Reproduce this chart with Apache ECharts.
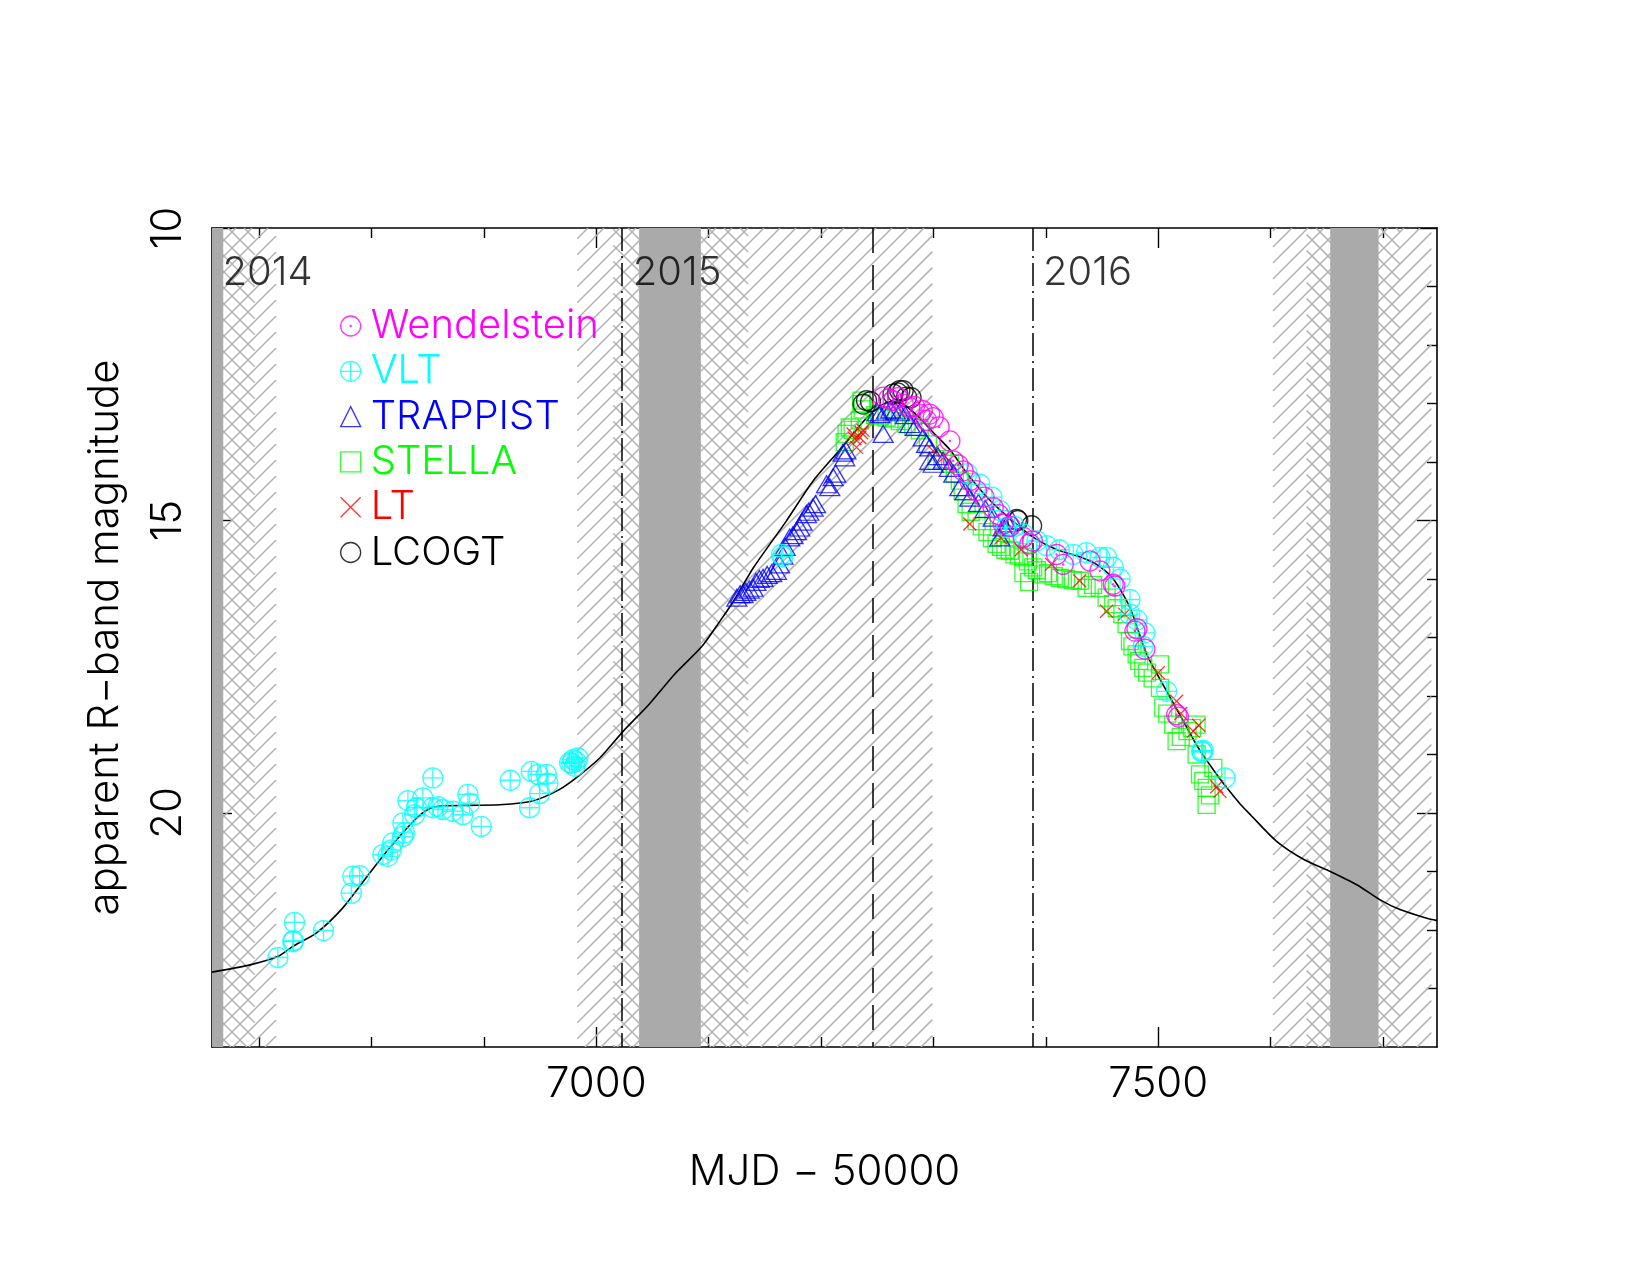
<!DOCTYPE html>
<html><head><meta charset="utf-8">
<script src="https://cdn.jsdelivr.net/npm/echarts@6/dist/echarts.min.js"></script>
<style>html,body{margin:0;padding:0;background:#fff}#c{width:1650px;height:1275px}</style>
</head><body><div id="c"></div>
<script>
// ---------- axes ----------
const xMin = 6658, xMax = 7748;
const yMin = 10, yMax = 24;
const xMajorTicks = [7000, 7500];
const xMinorTicks = [6700, 6800, 6900, 7100, 7200, 7300, 7400, 7600, 7700];
const yMajorTicks = [10, 15, 20];
const yMinorTicks = [11, 12, 13, 14, 16, 17, 18, 19, 21, 22, 23];

// ---------- annotations ----------
const yearStarts = [6658, 7023, 7388];
const yearNames = ['2014', '2015', '2016'];
const yearLabelMag = 10.77;
const yearLineMJD = [7023, 7388];
const dashedLineMJD = [7246];
const hatchForward = [[6600, 6715], [6983, 7299], [7602, 7743]];
const hatchBackward = [[6600, 6696], [7015, 7135], [7632, 7715]];
const graySolid = [[6600, 6668], [7038, 7093], [7653, 7696]];

// ---------- model curve ----------
const modelMJD = [6658,6691,6717,6730,6751,6774,6795,6816,6840,6855,6884,6914,6944,6967,6982,7003,7024,7047,7070,7094,7110,7122,7140,7169,7193,7220,7238,7252,7262,7272,7285,7300,7315,7330,7350,7370,7390,7410,7430,7445,7460,7475,7490,7507,7520,7537,7555,7561,7573,7582,7605,7630,7653,7677,7697,7715,7739,7748];
const modelMag = [22.72,22.60,22.45,22.28,22.05,21.63,21.11,20.60,20.09,19.90,19.87,19.86,19.79,19.60,19.40,19.06,18.60,18.14,17.62,17.15,16.72,16.38,15.80,15.01,14.32,13.72,13.30,13.05,12.97,13.00,13.20,13.50,13.80,14.20,14.65,15.00,15.30,15.50,15.62,15.75,16.00,16.50,17.30,17.90,18.35,18.93,19.42,19.57,19.85,20.03,20.48,20.80,21.00,21.23,21.48,21.65,21.80,21.84];

// ---------- observations ----------
const wendelstein = [[7255.2,12.89],[7260,12.92],[7264,12.95],[7268,12.90],[7273,13.01],[7278.9,13.07],[7283,13.05],[7287.8,13.18],[7290,13.12],[7293.8,13.29],[7296.6,13.18],[7299.7,13.24],[7305,13.40],[7314.6,13.64],[7317.5,13.98],[7322,14.05],[7326.4,14.15],[7332.3,14.32],[7338.3,14.49],[7345,14.60],[7353.1,14.78],[7358,14.90],[7362,15.06],[7368,15.10],[7379.8,15.29],[7385.7,15.40],[7388,15.35],[7409.5,15.58],[7415.4,15.75],[7439.2,15.69],[7448,15.86],[7459.9,16.09],[7461.4,16.12],[7479.2,16.89],[7481,16.85],[7488.1,17.20],[7516.3,18.32],[7518,18.36]];
const vlt = [[6716.6,22.47],[6729.9,22.20],[6731.4,21.87],[6730.5,22.18],[6757.2,22.01],[6781.9,21.37],[6783.3,21.08],[6789.3,21.07],[6810.0,20.71],[6814.5,20.74],[6817.5,20.63],[6818.9,20.51],[6827.8,20.40],[6829.3,20.34],[6827.8,20.17],[6832.3,19.79],[6839.8,19.91],[6838.2,20.03],[6845.6,19.74],[6854.5,19.40],[6854.5,19.91],[6859.0,19.89],[6863.4,19.94],[6872.3,19.97],[6881.2,20.03],[6885.7,19.68],[6887.2,19.83],[6897.6,20.23],[6923.4,19.44],[6942.1,19.29],[6940.6,19.91],[6949.5,19.67],[6948.0,19.34],[6955.5,19.34],[6956.9,19.49],[6976.2,19.14],[6979.2,19.09],[6983.6,19.06],[6980.7,19.20],[6978,19.15],[6982,19.12],[7164.7,15.58],[7166,15.62],[7330,14.20],[7341.2,14.38],[7352,14.60],[7359,14.83],[7365,15.12],[7372,15.10],[7379.8,15.23],[7392,15.35],[7400.6,15.43],[7412,15.50],[7424.3,15.58],[7436,15.55],[7448.1,15.63],[7454,15.63],[7460,15.80],[7466,16.00],[7474.8,16.35],[7474.8,16.60],[7481,16.70],[7488.1,16.92],[7486.6,17.15],[7507.4,17.92],[7538.6,18.94],[7539,18.96],[7540,18.93],[7559.3,19.40]];
const trappist = [[7125,16.32],[7128,16.26],[7130.5,16.26],[7133,16.22],[7136,16.18],[7139.4,16.15],[7142,16.05],[7145,16.00],[7148.3,15.98],[7152,15.93],[7156,15.90],[7160.2,15.86],[7163,15.75],[7166,15.60],[7168,15.45],[7172.1,15.29],[7175,15.25],[7178,15.18],[7181,15.12],[7183,15.02],[7186.9,14.89],[7189,14.85],[7192.8,14.78],[7195,14.72],[7204.8,14.38],[7207.7,14.43],[7210.7,14.26],[7213,14.20],[7219.5,13.84],[7221,13.92],[7222,13.80],[7250,13.15],[7252.2,13.18],[7255.2,13.52],[7258,13.12],[7262,13.10],[7266,13.12],[7270,13.15],[7275,13.20],[7278.9,13.35],[7284,13.40],[7290.7,13.58],[7293.8,13.69],[7296.6,13.75],[7296.6,13.98],[7299.7,14.03],[7304,13.90],[7308.5,13.98],[7314,14.10],[7318,14.20],[7323.4,14.43],[7328,14.50],[7332.3,14.61],[7340,14.70],[7346,14.80],[7353.1,14.95],[7359,15.29],[7362,15.12],[7366,15.05],[7370,15.00]];
const stella = [[7221,13.66],[7222.6,13.52],[7225.5,13.41],[7228,13.45],[7234.4,13.29],[7235.9,13.01],[7235.9,12.95],[7237,13.10],[7248,13.20],[7252,13.22],[7258.2,13.24],[7265,13.26],[7270,13.30],[7276,13.35],[7282,13.40],[7287.8,13.46],[7295,13.70],[7302.7,13.98],[7308,13.95],[7314.6,14.03],[7319,14.20],[7323.4,14.32],[7326,14.50],[7329.4,14.72],[7333,14.85],[7338.3,15.01],[7343,15.10],[7348,15.20],[7352,15.30],[7356.1,15.40],[7360,15.45],[7364,15.50],[7367.9,15.52],[7372,15.58],[7376,15.60],[7379.8,15.63],[7380,15.90],[7384,15.70],[7385,16.05],[7388.7,15.80],[7392,15.85],[7397.6,15.92],[7402,15.90],[7407,15.95],[7412.4,15.98],[7418,16.00],[7424,16.02],[7430.2,16.03],[7436.2,16.15],[7442,16.10],[7448,16.15],[7454,16.32],[7459.9,16.43],[7463,16.50],[7468,16.60],[7471.8,16.77],[7474.8,17.06],[7477,17.15],[7480.7,17.29],[7483,17.40],[7486.6,17.52],[7490,17.60],[7495,17.70],[7501.5,17.46],[7501.5,17.86],[7504.4,18.20],[7508,18.30],[7513.3,18.49],[7516.3,18.77],[7520,18.70],[7526,18.60],[7530,18.55],[7534.1,18.49],[7534.1,19.00],[7537.1,19.34],[7540,19.45],[7543,19.57],[7543,19.86],[7549,19.23],[7546,19.70]];
const lt = [[7228.4,13.52],[7230,13.60],[7231.5,13.75],[7234.4,13.58],[7236,13.50],[7237.3,13.46],[7299.7,13.81],[7310,13.90],[7332.3,15.06],[7360,15.30],[7378,15.50],[7405,15.75],[7430,16.03],[7454,16.55],[7470,16.60],[7500,17.60],[7516.3,18.09],[7520,18.30],[7531.1,18.60],[7536,18.50],[7552,19.55],[7554.9,19.63]];
const lcogt = [[7237.3,13.01],[7240.4,12.95],[7244,12.97],[7264,12.84],[7268,12.82],[7270,12.78],[7273,12.78],[7276,12.89],[7280,12.90],[7373.9,14.98],[7375,15.00],[7387.3,15.09]];

const FONT = "Inter, 'DejaVu Sans', sans-serif";
const FW = 300;
const HATCH_COLOR = '#b3b3b3';
const HATCH_STEP = 16;

const SYM_CIRCLE_PLUS = 'path://M10,0 A10,10 0 1,1 10,20 A10,10 0 1,1 10,0 Z M0,10 L20,10 M10,0 L10,20';
const SYM_CIRCLE_DOT = 'path://M10,0 A10,10 0 1,1 10,20 A10,10 0 1,1 10,0 Z M10,9.4 A0.6,0.6 0 1,1 10,10.6 A0.6,0.6 0 1,1 10,9.4 Z';
const SYM_X = 'path://M0,0 L10,10 M10,0 L0,10';

function clampRect(params, api) {
  const cs = params.coordSys;
  let xa = api.coord([api.value(0), yMin])[0];
  let xb = api.coord([api.value(1), yMin])[0];
  xa = Math.max(xa, cs.x); xb = Math.min(xb, cs.x + cs.width);
  return {xa, xb, ya: cs.y, yb: cs.y + cs.height};
}
function hatchRender(dir) {
  return function (params, api) {
    const r = clampRect(params, api);
    const ch = [];
    if (r.xb <= r.xa) return {type: 'group', children: ch};
    const d = HATCH_STEP;
    if (dir > 0) {
      for (let c = Math.ceil((r.xa + r.ya) / d) * d; c <= r.xb + r.yb; c += d) {
        const x1 = Math.max(r.xa, c - r.yb), x2 = Math.min(r.xb, c - r.ya);
        if (x2 > x1) ch.push({type: 'line', shape: {x1: x1, y1: c - x1, x2: x2, y2: c - x2}, style: {stroke: HATCH_COLOR, lineWidth: 1.5}});
      }
    } else {
      for (let c = Math.ceil((r.ya - r.xb) / d) * d; c <= r.yb - r.xa; c += d) {
        const x1 = Math.max(r.xa, r.ya - c), x2 = Math.min(r.xb, r.yb - c);
        if (x2 > x1) ch.push({type: 'line', shape: {x1: x1, y1: x1 + c, x2: x2, y2: x2 + c}, style: {stroke: HATCH_COLOR, lineWidth: 1.5}});
      }
    }
    return {type: 'group', children: ch};
  };
}
function solidRender(params, api) {
  const r = clampRect(params, api);
  return {type: 'rect', shape: {x: r.xa, y: r.ya, width: Math.max(0, r.xb - r.xa), height: r.yb - r.ya}, style: {fill: '#aaaaaa'}};
}

const axisLineStyle = {color: '#000', width: 1.6};
function xAxisDef(pos, ticks, len, withLabels, lineShow) {
  return {
    type: 'value', min: xMin, max: xMax, position: pos,
    axisLine: {show: lineShow, onZero: false, lineStyle: axisLineStyle},
    axisTick: {show: true, inside: true, length: len, customValues: ticks, lineStyle: {color: '#000', width: 1.4}},
    axisLabel: withLabels ? {show: true, customValues: ticks, formatter: v => String(v), fontSize: 42, fontFamily: FONT, fontWeight: FW, color: '#000', margin: 16} : {show: false},
    splitLine: {show: false}
  };
}
function yAxisDef(pos, ticks, len, withLabels, lineShow) {
  return {
    type: 'value', min: yMin, max: yMax, inverse: true, position: pos,
    axisLine: {show: lineShow, onZero: false, lineStyle: axisLineStyle},
    axisTick: {show: true, inside: true, length: len, customValues: ticks, lineStyle: {color: '#000', width: 1.4}},
    axisLabel: withLabels ? {show: true, customValues: ticks, formatter: v => String(v), rotate: 90, fontSize: 42, fontFamily: FONT, fontWeight: FW, color: '#000', margin: 23} : {show: false},
    splitLine: {show: false}
  };
}

const xAxes = [
  xAxisDef('bottom', xMajorTicks, 20, true, true),
  xAxisDef('bottom', xMinorTicks, 10, false, false),
  xAxisDef('top', xMajorTicks, 20, false, true),
  xAxisDef('top', xMinorTicks, 10, false, false)
];
xAxes[0].name = 'MJD \u2212 50000';
xAxes[0].nameLocation = 'middle';
xAxes[0].nameGap = 104;
xAxes[0].nameTextStyle = {fontSize: 42, fontFamily: FONT, fontWeight: FW, color: '#000'};

const yAxes = [
  yAxisDef('left', yMajorTicks, 20, true, true),
  yAxisDef('left', yMinorTicks, 10, false, false),
  yAxisDef('right', yMajorTicks, 20, false, true),
  yAxisDef('right', yMinorTicks, 10, false, false)
];
yAxes[0].name = 'apparent R\u2212band magnitude';
yAxes[0].nameLocation = 'middle';
yAxes[0].nameGap = 86;
yAxes[0].nameRotate = 90;
yAxes[0].nameTextStyle = {fontSize: 42, fontFamily: FONT, fontWeight: FW, color: '#000'};

function obsSeries(name, data, symbol, size, color, z) {
  return {
    name: name, type: 'scatter', data: data, symbol: symbol, symbolSize: size,
    itemStyle: {color: 'rgba(0,0,0,0)', borderColor: color, borderWidth: 1.3},
    emphasis: {disabled: true}, silent: true, z: z
  };
}

const vlines = yearLineMJD.map(v => ({xAxis: v, lineStyle: {type: [23, 5, 2, 5], color: '#000', width: 1.5}}))
  .concat(dashedLineMJD.map(v => ({xAxis: v, lineStyle: {type: [25, 12], color: '#000', width: 1.5}})));

const option = {
  animation: false,
  backgroundColor: '#fff',
  grid: {left: 212, top: 228, width: 1225, height: 819},
  xAxis: xAxes,
  yAxis: yAxes,
  legend: {
    orient: 'vertical', left: 335, top: 301, itemWidth: 20, itemHeight: 20, itemGap: 5.3,
    selectedMode: false,
    itemStyle: {borderWidth: 1.3},
    textStyle: {fontSize: 40, fontFamily: FONT, fontWeight: FW, lineHeight: 40, padding: [0, 0, 0, 5]},
    data: [
      {name: 'Wendelstein', textStyle: {color: '#ff00ff'}},
      {name: 'VLT', textStyle: {color: '#00ffff'}},
      {name: 'TRAPPIST', textStyle: {color: '#0000ff'}},
      {name: 'STELLA', textStyle: {color: '#00ff00'}},
      {name: 'LT', textStyle: {color: '#ff0000'}},
      {name: 'LCOGT', textStyle: {color: '#000000'}}
    ]
  },
  series: [
    {type: 'custom', renderItem: hatchRender(1), data: hatchForward, encode: {x: [0, 1]}, silent: true, z: 1, clip: true},
    {type: 'custom', renderItem: hatchRender(-1), data: hatchBackward, encode: {x: [0, 1]}, silent: true, z: 1, clip: true},
    {type: 'custom', renderItem: solidRender, data: graySolid, encode: {x: [0, 1]}, silent: true, z: 2, clip: true},
    {
      type: 'line', data: modelMJD.map((x, i) => [x, modelMag[i]]), symbol: 'none', smooth: 0.25,
      lineStyle: {color: '#000', width: 1.6}, silent: true, z: 3,
      markLine: {symbol: 'none', silent: true, label: {show: false}, data: vlines}
    },
    {
      type: 'scatter', data: yearStarts.map((x, i) => ({value: [x, yearLabelMag], name: yearNames[i]})),
      symbol: 'circle', symbolSize: 1, itemStyle: {color: 'rgba(0,0,0,0)'}, silent: true, z: 4, clip: false,
      label: {show: true, position: 'right', distance: 10, formatter: p => p.name, fontSize: 40, fontFamily: FONT, fontWeight: FW, color: '#000'}
    },
    obsSeries('STELLA', stella, 'rect', 17, '#00ff00', 5),
    obsSeries('TRAPPIST', trappist, 'triangle', [20, 17], '#0000ff', 6),
    obsSeries('LT', lt, SYM_X, 13, '#ff0000', 7),
    obsSeries('LCOGT', lcogt, 'circle', 20, '#000000', 8),
    obsSeries('VLT', vlt, SYM_CIRCLE_PLUS, 20, '#00ffff', 9),
    obsSeries('Wendelstein', wendelstein, SYM_CIRCLE_DOT, 20, '#ff00ff', 10)
  ]
};
const chart = echarts.init(document.getElementById('c'), null, {renderer: 'canvas'});
chart.setOption(option);
</script>
</body></html>
